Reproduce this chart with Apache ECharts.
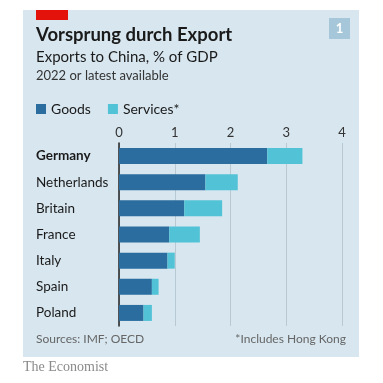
<!DOCTYPE html>
<html><head><meta charset="utf-8">
<script src="https://cdn.jsdelivr.net/npm/echarts@6/dist/echarts.min.js"></script>
<style>html,body{margin:0;padding:0;background:#fff;}#c{width:383px;height:383px;}</style>
</head><body><div id="c"></div>
<script>
var categories = ['Germany','Netherlands','Britain','France','Italy','Spain','Poland'];
var goods = [2.66, 1.55, 1.17, 0.90, 0.87, 0.59, 0.44];
var services = [0.63, 0.58, 0.68, 0.55, 0.13, 0.12, 0.15];
var xTicks = [0, 1, 2, 3, 4];
var FONT = 'Lato';
var chart = echarts.init(document.getElementById('c'), null, {renderer:'canvas'});
chart.setOption({
  animation:false,
  backgroundColor:'#ffffff',
  textStyle:{fontFamily:FONT},
  graphic:[
    {type:'rect', z:-10, shape:{x:23,y:10,width:336,height:347}, style:{fill:'#d7e6ef'}},
    {type:'rect', shape:{x:36,y:10,width:32,height:10}, style:{fill:'#e3120b'}},
    {type:'rect', shape:{x:329,y:18,width:21,height:21}, style:{fill:'#a6c7da'}},
    {type:'text', x:339.5, y:28.5, style:{text:'1', fill:'#ffffff', font:'bold 13px '+FONT, align:'center', verticalAlign:'middle'}},
    {type:'text', x:36, y:35, style:{text:'Vorsprung durch Export', fill:'#1a1a1a', font:'bold 18.5px '+FONT, verticalAlign:'middle'}},
    {type:'text', x:36, y:57, style:{text:'Exports to China, % of GDP', fill:'#1a1a1a', font:'15px '+FONT, verticalAlign:'middle'}},
    {type:'text', x:36, y:76, style:{text:'2022 or latest available', fill:'#333333', font:'13px '+FONT, verticalAlign:'middle'}},
    {type:'text', x:36, y:339, style:{text:'Sources: IMF; OECD', fill:'#666666', font:'12px '+FONT, verticalAlign:'middle'}},
    {type:'text', x:346, y:339, style:{text:'*Includes Hong Kong', fill:'#666666', font:'12px '+FONT, align:'right', verticalAlign:'middle'}},
    {type:'text', x:23, y:367, style:{text:'The Economist', fill:'#8a8a8a', font:'14px "Liberation Serif", "DejaVu Serif", serif', verticalAlign:'middle'}}
  ],
  legend:{
    left:36, top:102, itemWidth:10, itemHeight:10, itemGap:17, icon:'rect', padding:0,
    textStyle:{fontFamily:FONT, fontSize:14, color:'#1a1a1a'},
    data:['Goods','Services*']
  },
  grid:{left:119, right:41, top:143, height:183, containLabel:false},
  xAxis:{
    type:'value', position:'top', min:0, max:4, interval:1,
    axisLine:{show:false}, axisTick:{show:false},
    axisLabel:{color:'#333333', fontSize:13, fontFamily:FONT, margin:4,
      formatter:function(v){return xTicks.indexOf(v)>=0 ? String(v) : '';}},
    splitLine:{lineStyle:{color:'#b9c9d3', width:1}}
  },
  yAxis:{
    type:'category', inverse:true, data:categories,
    axisLine:{show:true, lineStyle:{color:'#222222', width:1.5}}, axisTick:{show:false},
    axisLabel:{
      align:'left', margin:83, fontSize:13.5, fontFamily:FONT, color:'#1a1a1a',
      formatter:function(v){return v==='Germany' ? '{b|'+v+'}' : v;},
      rich:{b:{fontWeight:'bold', fontSize:13.5, fontFamily:FONT, color:'#1a1a1a'}}
    }
  },
  series:[
    {name:'Goods', type:'bar', stack:'t', data:goods, barWidth:16, itemStyle:{color:'#2a6d9e'}, z:3},
    {name:'Services*', type:'bar', stack:'t', data:services, barWidth:16, itemStyle:{color:'#52c2d6'}, z:3}
  ]
});
</script></body></html>
